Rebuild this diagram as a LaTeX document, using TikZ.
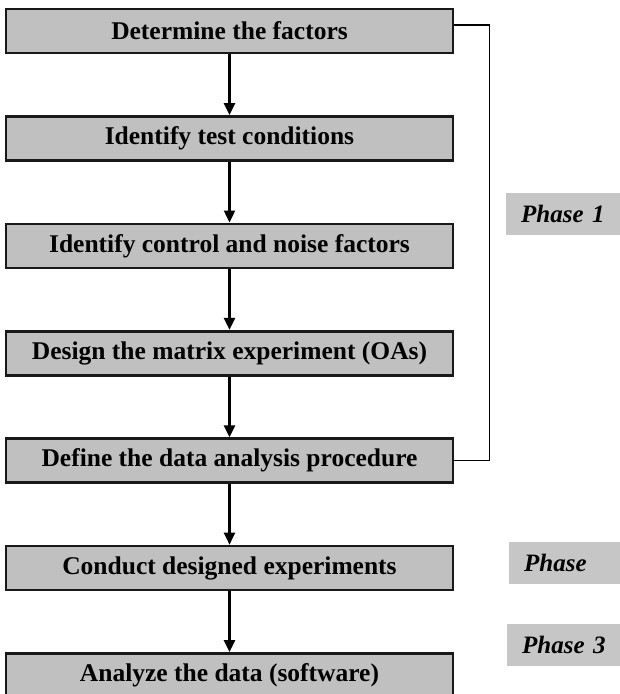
\documentclass[tikz,border=0pt]{standalone}
\usepackage{fontspec}
\setmainfont{Liberation Serif}
\usetikzlibrary{positioning, arrows.meta}
\definecolor{boxgray}{RGB}{192,192,192}
\definecolor{phasegray}{RGB}{198,198,198}

\begin{document}
\begin{tikzpicture}[x=1pt, y=-1pt,
	stage/.style={draw=black!90, line width=2.6pt, fill=boxgray,
		minimum width=447pt, minimum height=44pt, inner sep=0pt,
		font=\fontsize{25.5}{29}\selectfont\bfseries},
	phase/.style={fill=phasegray, anchor=west, text width=100pt, align=left,
		inner xsep=15pt, minimum height=42pt,
		font=\fontsize{25}{29}\selectfont\bfseries\itshape},
	flow/.style={line width=2.4pt, -{Triangle[width=11pt,length=12pt]}},
	node distance=60.8pt]
	\useasboundingbox (0,0) rectangle (620,694);
	\clip (0,0) rectangle (620,694);
	\node[stage] (determine) at (229.5,31) {Determine the factors};
	\node[stage, below=of determine] (conditions) {Identify test conditions};
	\node[stage, below=of conditions] (factors) {Identify control and noise factors};
	\node[stage, below=of factors] (matrix) {Design the matrix experiment (OAs)};
	\node[stage, below=of matrix] (analysis) {Define the data analysis procedure};
	\node[stage, below=of analysis] (conduct) {Conduct designed experiments};
	\node[stage, below=of conduct] (analyze) {Analyze the data (software)};
	\foreach \from/\to in {determine/conditions, conditions/factors, factors/matrix,
		matrix/analysis, analysis/conduct, conduct/analyze}
		\draw[flow] (\from.south) -- (\to.north);
	\draw[line width=1.4pt] ([yshift=6pt]determine.east) -- ++(35,0) |- (analysis.east);
	\node[phase] (phaseone) at (506,214) {Phase 1};
	\node[phase] (phasetwo) at (509,563) {Phase};
	\node[phase] (phasethree) at (507,645) {Phase 3};
\end{tikzpicture}
\end{document}
